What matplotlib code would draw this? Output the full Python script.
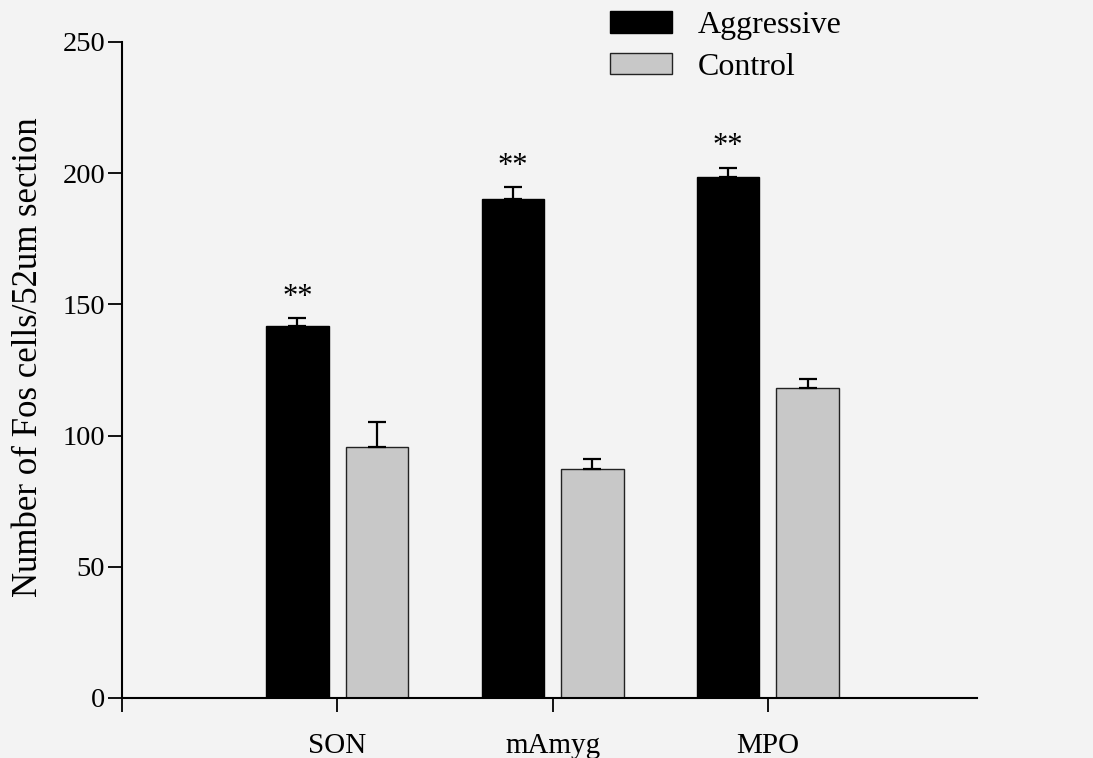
import matplotlib
matplotlib.use('Agg')
import matplotlib.pyplot as plt
import numpy as np
from matplotlib.patches import Patch

# Data
regions = ['SON', 'mAmyg', 'MPO']
aggressive = [141.8, 190.2, 198.4]
aggressive_err = [2.9, 4.4, 3.7]
control = [95.7, 87.3, 118.0]
control_err = [9.6, 3.7, 3.7]
signif = ['**', '**', '**']

plt.rcParams['font.family'] = ['Liberation Serif', 'DejaVu Serif']

bg = '#f3f3f3'
grey = '#c8c8c8'
fig = plt.figure(figsize=(10.93, 7.58), dpi=100, facecolor=bg)
ax = fig.add_axes([0.1116, 0.0792, 0.782, 0.8654])
ax.set_facecolor(bg)

x = np.arange(1, len(regions) + 1)
width = 0.29
off = 0.185
ebar = dict(ecolor='black', elinewidth=1.6, capsize=6.5, capthick=1.6)

ax.bar(x - off, aggressive, width, color='black', edgecolor='black', linewidth=1,
       yerr=[[0] * 3, aggressive_err], error_kw=ebar)
ax.bar(x + off, control, width, color=grey, edgecolor='#222222', linewidth=1,
       yerr=[[0] * 3, control_err], error_kw=ebar)

for i in range(len(regions)):
    ax.text(x[i] - off, aggressive[i] + aggressive_err[i] + 8, signif[i],
            ha='center', va='center', fontsize=22)

ax.set_xlim(0, 3.97)
ax.set_ylim(0, 250)
ax.set_yticks([0, 50, 100, 150, 200, 250])
ax.set_xticks([0] + list(x))
ax.set_xticklabels([''] + regions)
ax.tick_params(axis='y', direction='out', length=10, width=1.3, labelsize=20.5, pad=2)
ax.tick_params(axis='x', direction='out', length=10, width=1.3, labelsize=21, pad=15)
for s in ['top', 'right']:
    ax.spines[s].set_visible(False)
for s in ['left', 'bottom']:
    ax.spines[s].set_linewidth(1.5)

ax.set_ylabel('Number of Fos cells/52um section', fontsize=25)
ax.yaxis.set_label_coords(-0.09, 0.52)

handles = [Patch(facecolor='black', edgecolor='black'),
           Patch(facecolor=grey, edgecolor='#222222')]
leg = ax.legend(handles, ['Aggressive', 'Control'], loc='upper left',
                bbox_to_anchor=(0.571, 1.047), frameon=False, fontsize=23,
                handlelength=1.95, handleheight=0.65, labelspacing=0.4,
                handletextpad=0.8, borderaxespad=0, borderpad=0)

fig.savefig('out.png', dpi=100, facecolor=bg)
